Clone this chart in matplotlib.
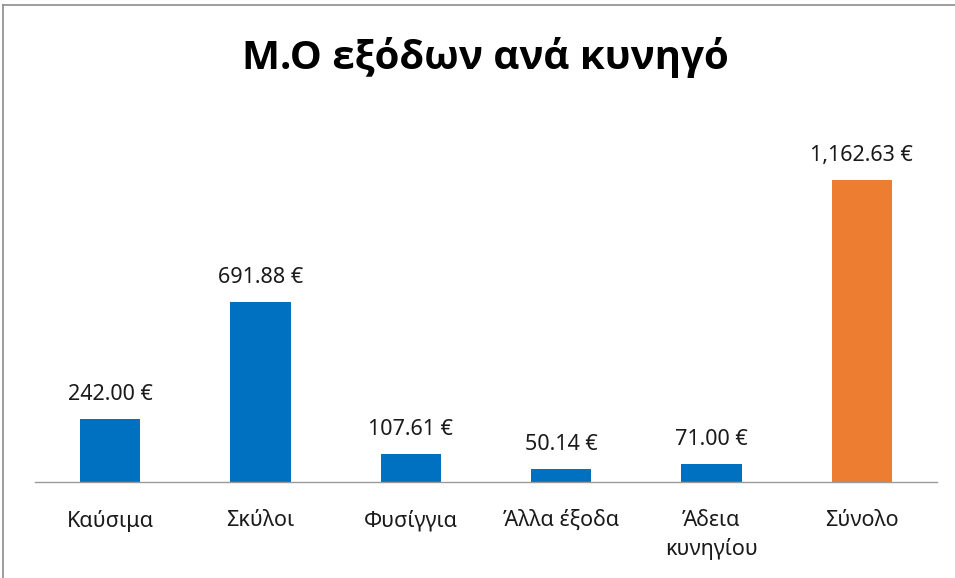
import matplotlib.pyplot as plt
from matplotlib.lines import Line2D

plt.rcParams['font.family'] = ['Noto Sans', 'DejaVu Sans']

categories = ['Καύσιμα', 'Σκύλοι', 'Φυσίγγια', 'Άλλα έξοδα', 'Άδεια\nκυνηγίου', 'Σύνολο']
values = [242.00, 691.88, 107.61, 50.14, 71.00, 1162.63]
colors = ['#0070C0'] * 5 + ['#ED7D31']

fig = plt.figure(figsize=(9.55, 5.78), dpi=100)
ax = fig.add_axes([35 / 955, 1 - 482 / 578, (937 - 35) / 955, (482 - 118) / 578])

x = range(len(categories))
ax.bar(x, values, width=0.4, color=colors)

for xi, v in zip(x, values):
    ax.annotate(f'{v:,.2f} €', (xi, v), xytext=(0, 10), textcoords='offset points',
                ha='center', va='bottom', fontsize=15.5, color='#1a1a1a')

ax.set_xlim(-0.5, len(categories) - 0.5)
ax.set_ylim(0, 1400)
ax.set_xticks(list(x))
ax.set_xticklabels(categories, fontsize=15.5, color='#1a1a1a', linespacing=1.45)
ax.tick_params(axis='x', length=0, pad=20)
ax.set_yticks([])
for side in ['top', 'right', 'left']:
    ax.spines[side].set_visible(False)
ax.spines['bottom'].set_color('#9a9a9a')
ax.spines['bottom'].set_linewidth(1)

fig.text(485 / 955, 1 - 57 / 578, 'Μ.Ο εξόδων ανά κυνηγό', ha='center', va='center',
         fontsize=29, fontweight='bold', color='black',
         family=['Open Sans', 'Noto Sans', 'DejaVu Sans'])

# outer chart frame (top and left edges visible in the reference)
fig.add_artist(Line2D([3 / 955, 1], [1 - 5 / 578, 1 - 5 / 578], color='#8c8c8c', lw=1.2))
fig.add_artist(Line2D([3 / 955, 3 / 955], [0, 1 - 5 / 578], color='#8c8c8c', lw=1.2))

fig.savefig('out.png', dpi=100)
